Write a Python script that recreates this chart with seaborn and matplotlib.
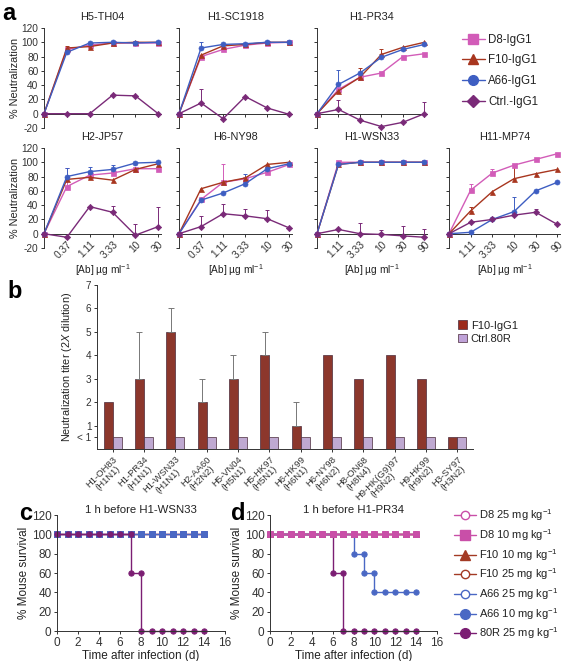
import numpy as np
import pandas as pd
import matplotlib
matplotlib.use("Agg")
import matplotlib.pyplot as plt
import seaborn as sns
from matplotlib.lines import Line2D
from matplotlib.patches import Patch

# ---------------- data ----------------
A_STRAINS = ["H5-TH04", "H1-SC1918", "H1-PR34", "H2-JP57", "H6-NY98", "H1-WSN33", "H11-MP74"]
A_CONC_LOW = ["0.37", "1.11", "3.33", "10", "30"]
A_CONC_HIGH = ["1.11", "3.33", "10", "30", "90"]
A_MABS = ["D8-IgG1", "F10-IgG1", "A66-IgG1", "Ctrl.-IgG1"]

D8_NEUT = [[0, 90, 96, 99, 99, 99],
           [0, 80, 90, 96, 99, 100],
           [0, 34, 51, 57, 80, 84],
           [0, 66, 82, 85, 91, 91],
           [0, 48, 72, 77, 86, 97],
           [0, 100, 100, 100, 100, 100],
           [0, 61, 85, 96, 104, 112]]
F10_NEUT = [[0, 92, 94, 99, 100, 100],
            [0, 82, 95, 97, 100, 100],
            [0, 32, 51, 83, 93, 100],
            [0, 76, 79, 75, 90, 98],
            [0, 63, 72, 78, 97, 100],
            [0, 97, 100, 100, 100, 100],
            [0, 32, 59, 77, 84, 90]]
A66_NEUT = [[0, 86, 99, 100, 99, 100],
            [0, 92, 97, 98, 100, 100],
            [0, 41, 57, 79, 90, 97],
            [0, 80, 87, 90, 99, 100],
            [0, 47, 57, 70, 91, 98],
            [0, 97, 100, 100, 100, 100],
            [0, 2, 20, 31, 60, 72]]
CTRL_NEUT = [[0, 0, 0, 26, 25, 0],
             [0, 15, -7, 24, 8, -1],
             [0, 6, -9, -18, -12, 0],
             [0, -5, 38, 30, -2, 10],
             [0, 10, 28, 25, 21, 8],
             [0, 6, 0, -1, -3, -5],
             [0, 16, 20, 26, 30, 13]]
# upper error bars
D8_ERR = [[0, 0, 0, 0, 0, 0],
          [0, 0, 0, 0, 0, 0],
          [0, 0, 0, 0, 0, 0],
          [0, 26, 0, 0, 0, 0],
          [0, 0, 25, 0, 0, 0],
          [0, 0, 0, 0, 0, 0],
          [0, 8, 5, 0, 0, 0]]
F10_ERR = [[0, 3, 0, 0, 0, 0],
           [0, 0, 0, 0, 0, 0],
           [0, 0, 13, 7, 0, 0],
           [0, 0, 0, 0, 0, 0],
           [0, 0, 0, 0, 0, 0],
           [0, 0, 0, 0, 0, 0],
           [0, 6, 0, 19, 0, 0]]
A66_ERR = [[0, 0, 0, 0, 0, 0],
           [0, 9, 0, 0, 0, 0],
           [0, 20, 0, 0, 0, 0],
           [0, 12, 7, 6, 0, 0],
           [0, 0, 0, 13, 0, 0],
           [0, 0, 0, 0, 0, 0],
           [0, 0, 0, 20, 0, 0]]
CTRL_ERR = [[0, 0, 0, 0, 0, 0],
            [0, 19, 0, 0, 0, 0],
            [0, 13, 0, 0, 0, 17],
            [0, 0, 0, 9, 15, 27],
            [0, 15, 14, 10, 12, 0],
            [0, 0, 15, 6, 14, 12],
            [0, 0, 0, 0, 5, 0]]

B_STRAINS = ["H1-OH83\n(H1N1)", "H1-PR34\n(H1N1)", "H1-WSN33\n(H1N1)", "H2-AA60\n(H2N2)",
             "H5-VN04\n(H5N1)", "H5-HK97\n(H5N1)", "H6-HK99\n(H6N1)", "H6-NY98\n(H6N2)",
             "H8-ON68\n(H8N4)", "H9-HK(G9)97\n(H9N2)", "H9-HK99\n(H9N2)", "H3-SY97\n(H3N2)"]
F10_TITER = [2, 3, 5, 2, 3, 4, 1, 4, 3, 4, 3, 0.5]
F10_TITER_ERR = [0, 2, 1, 1, 1, 1, 1, 0, 0, 0, 0, 0]
CTRL_TITER = [0.5, 0.5, 0.5, 0.5, 0.5, 0.5, 0.5, 0.5, 0.5, 0.5, 0.5, 0.5]
B_YTICKS = [0.5, 1, 2, 3, 4, 5, 6, 7]
B_YLABELS = ["< 1", "1", "2", "3", "4", "5", "6", "7"]

DAYS = [0, 1, 2, 3, 4, 5, 6, 7, 8, 9, 10, 11, 12, 13, 14]
SURV_FULL = [100, 100, 100, 100, 100, 100, 100, 100, 100, 100, 100, 100, 100, 100, 100]
C_DAYS_80R = [0, 1, 2, 3, 4, 5, 6, 7, 7, 8, 8, 9, 10, 11, 12, 13, 14]
C_SURV_80R = [100, 100, 100, 100, 100, 100, 100, 100, 60, 60, 0, 0, 0, 0, 0, 0, 0]
D_DAYS_80R = [0, 1, 2, 3, 4, 5, 6, 6, 7, 7, 8, 9, 10, 11, 12, 13, 14]
D_SURV_80R = [100, 100, 100, 100, 100, 100, 100, 60, 60, 0, 0, 0, 0, 0, 0, 0, 0]
D_DAYS_A66_10 = [0, 1, 2, 3, 4, 5, 6, 7, 8, 8, 9, 9, 10, 10, 11, 12, 13, 14]
D_SURV_A66_10 = [100, 100, 100, 100, 100, 100, 100, 100, 100, 80, 80, 60, 60, 40, 40, 40, 40, 40]

# ---------------- style ----------------
sns.set_theme(style="ticks")
plt.rcParams["font.family"] = ["Liberation Sans", "DejaVu Sans"]
plt.rcParams["mathtext.fontset"] = "custom"
plt.rcParams["mathtext.rm"] = "Liberation Sans"
plt.rcParams["mathtext.it"] = "Liberation Sans:italic"
plt.rcParams["axes.linewidth"] = 0.7
plt.rcParams["xtick.major.width"] = 0.7
plt.rcParams["ytick.major.width"] = 0.7
plt.rcParams["xtick.major.size"] = 2.5
plt.rcParams["ytick.major.size"] = 2.5
plt.rcParams["xtick.major.pad"] = 1.5
plt.rcParams["ytick.major.pad"] = 1.5
TXT = "#222222"
plt.rcParams["text.color"] = TXT
plt.rcParams["axes.edgecolor"] = "#333333"
plt.rcParams["xtick.color"] = "#333333"
plt.rcParams["ytick.color"] = "#333333"
plt.rcParams["axes.labelcolor"] = TXT

C_D8 = "#D25CB8"
C_F10 = "#A8361F"
C_A66 = "#3E5EC2"
C_CTRL = "#7A2A78"

W, H = 566, 661
fig = plt.figure(figsize=(W / 100, H / 100), dpi=100)


def px_axes(left, top, width, height):
    return fig.add_axes([left / W, 1 - (top + height) / H, width / W, height / H])


# ---------------- panel a ----------------
a_cols = [(44, 117), (179, 113), (317, 110), (449, 111)]
a_layout = [(0, 0), (0, 1), (0, 2), (1, 0), (1, 1), (1, 2), (1, 3)]
series = [(D8_NEUT, D8_ERR, C_D8, "s"), (F10_NEUT, F10_ERR, C_F10, "^"),
          (A66_NEUT, A66_ERR, C_A66, "o"), (CTRL_NEUT, CTRL_ERR, C_CTRL, "D")]

for i, strain in enumerate(A_STRAINS):
    row, col = a_layout[i]
    left, width = a_cols[col]
    top = 28 if row == 0 else 148
    ax = px_axes(left, top, width, 100)
    xpos = np.arange(6)
    for vals, errs, c, m in series:
        v = np.array(vals[i], dtype=float)
        e = np.array(errs[i], dtype=float)
        mask = e > 0
        if mask.any():
            ax.errorbar(xpos[mask], v[mask], yerr=[np.zeros(mask.sum()), e[mask]],
                        fmt="none", ecolor=c, elinewidth=0.7, capsize=1.3, capthick=0.7,
                        zorder=2)
        sns.lineplot(x=xpos, y=v, ax=ax, color=c, marker=m, markersize=3.6 if m != "D" else 3.2,
                     markeredgecolor=c, markeredgewidth=0.5, linewidth=1.0, estimator=None,
                     legend=False, clip_on=False, zorder=3)
    ax.set_xlim(0, 5.12)
    ax.set_ylim(-20, 120)
    ax.set_yticks(range(-20, 121, 20))
    ax.set_xticks(range(1, 6))
    ax.spines["top"].set_visible(False)
    ax.spines["right"].set_visible(False)
    ax.spines["bottom"].set_position(("data", 0))
    ax.set_title(strain, fontsize=7.8, pad=6, color=TXT)
    ax.set_ylabel("")
    ax.set_xlabel("")
    if col == 0:
        ax.set_yticklabels([str(t) for t in range(-20, 121, 20)], fontsize=7.3)
        ax.set_ylabel("% Neutralization", fontsize=7.8, labelpad=1)
    else:
        ax.set_yticklabels([])
    if row == 1:
        labels = A_CONC_HIGH if strain in ("H1-WSN33", "H11-MP74") else A_CONC_LOW
        ax.set_xticklabels(labels, rotation=45, ha="right", va="top",
                           rotation_mode="anchor", fontsize=7.3)
        ax.set_xlabel(r"[Ab] µg ml$^{-1}$", fontsize=7.3, labelpad=1)
        ax.xaxis.set_label_coords(0.5, -0.14)
    else:
        ax.set_xticklabels([])

leg_a = [Line2D([], [], color=C_D8, marker="s", ms=6.5, lw=1),
         Line2D([], [], color=C_F10, marker="^", ms=7, lw=1),
         Line2D([], [], color=C_A66, marker="o", ms=7, lw=1),
         Line2D([], [], color=C_CTRL, marker="D", ms=6, lw=1)]
fig.legend(leg_a, A_MABS, loc="upper left", bbox_to_anchor=(457 / W, 1 - 29 / H),
           frameon=False, fontsize=8.3, handlelength=2.0, handletextpad=0.3,
           labelspacing=0.75, borderaxespad=0)

# ---------------- panel b ----------------
axb = px_axes(97, 285, 376, 164)
df_b = pd.DataFrame({
    "strain": B_STRAINS * 2,
    "titer": F10_TITER + CTRL_TITER,
    "antibody": ["F10-IgG1"] * len(B_STRAINS) + ["Ctrl.80R"] * len(B_STRAINS),
})
sns.barplot(data=df_b, x="strain", y="titer", hue="antibody",
            palette=["#9C2A1C", "#BFA2D8"], width=0.58, errorbar=None,
            edgecolor="#4a2a3a", linewidth=0.5, ax=axb, legend=False)
bars = axb.containers[0]
bx = np.array([b.get_x() + b.get_width() / 2 for b in bars])
be = np.array(F10_TITER_ERR, dtype=float)
bm = be > 0
axb.errorbar(bx[bm], np.array(F10_TITER)[bm], yerr=[np.zeros(bm.sum()), be[bm]],
             fmt="none", ecolor="#777777", elinewidth=0.7, capsize=2.0, capthick=0.7, zorder=1)
axb.set_xlim(-0.5, 11.5)
axb.set_ylim(0, 7)
axb.set_yticks(B_YTICKS)
axb.set_yticklabels(B_YLABELS, fontsize=7.2)
axb.set_xticks(range(len(B_STRAINS)))
axb.set_xticklabels(B_STRAINS, rotation=45, ha="right", va="top", rotation_mode="anchor",
                    fontsize=6.8, multialignment="center", linespacing=0.95)
axb.set_xlabel("")
axb.set_ylabel(r"Neutralization titer (2$\it{X}$ dilution)", fontsize=7.8, labelpad=2)
axb.spines["top"].set_visible(False)
axb.spines["right"].set_visible(False)
fig.legend([Patch(facecolor="#9C2A1C", edgecolor="#4a2a3a", lw=0.5),
            Patch(facecolor="#BFA2D8", edgecolor="#4a2a3a", lw=0.5)],
           ["F10-IgG1", "Ctrl.80R"], loc="upper left", bbox_to_anchor=(454 / W, 1 - 316 / H),
           frameon=False, fontsize=8, handlelength=0.8, handleheight=0.8,
           handletextpad=0.3, labelspacing=0.3, borderaxespad=0)

# ---------------- panels c, d ----------------
C_SD8 = "#C94FA8"
C_SF10 = "#A33A24"
C_SA66 = "#4A68C4"
C_S80R = "#7B1E73"


def surv_line(ax, x, y, c, m, filled=True, ms=3.8):
    sns.lineplot(x=x, y=y, ax=ax, color=c, marker=m, markersize=ms,
                 markerfacecolor=c if filled else "white", markeredgecolor=c,
                 markeredgewidth=0.7, linewidth=1.0, estimator=None, sort=False,
                 legend=False, clip_on=False)


axc = px_axes(57, 515, 168, 116)
surv_line(axc, DAYS, SURV_FULL, C_SD8, "s")
surv_line(axc, DAYS, SURV_FULL, C_SF10, "^")
surv_line(axc, DAYS, SURV_FULL, C_SA66, "s")
surv_line(axc, C_DAYS_80R, C_SURV_80R, C_S80R, "o")
axc.set_title("1 h before H1-WSN33", fontsize=8.2, pad=1, color=TXT)

axd = px_axes(270, 515, 167, 116)
surv_line(axd, DAYS, SURV_FULL, C_SA66, "o", filled=False)
surv_line(axd, DAYS, SURV_FULL, C_SF10, "o", filled=False)
surv_line(axd, DAYS, SURV_FULL, C_SF10, "^")
surv_line(axd, DAYS, SURV_FULL, C_SD8, "o", filled=False)
surv_line(axd, D_DAYS_80R, D_SURV_80R, C_S80R, "o")
surv_line(axd, D_DAYS_A66_10, D_SURV_A66_10, C_SA66, "o")
surv_line(axd, DAYS, SURV_FULL, C_SD8, "s")
axd.set_title("1 h before H1-PR34", fontsize=8.2, pad=1, color=TXT)

for ax in (axc, axd):
    ax.set_xlim(0, 16)
    ax.set_ylim(0, 120)
    ax.set_xticks(range(0, 17, 2))
    ax.set_yticks(range(0, 121, 20))
    ax.tick_params(labelsize=8.5)
    ax.set_xlabel("Time after infection (d)", fontsize=8.5, labelpad=1)
    ax.set_ylabel("% Mouse survival", fontsize=8.5, labelpad=1)
    ax.spines["top"].set_visible(False)
    ax.spines["right"].set_visible(False)

leg_d_labels = [r"D8 25 mg kg$^{-1}$", r"D8 10 mg kg$^{-1}$", r"F10 10 mg kg$^{-1}$",
                r"F10 25 mg kg$^{-1}$", r"A66 25 mg kg$^{-1}$", r"A66 10 mg kg$^{-1}$",
                r"80R 25 mg kg$^{-1}$"]
leg_d = [Line2D([], [], color=C_SD8, marker="o", mfc="white", ms=6, lw=1),
         Line2D([], [], color=C_SD8, marker="s", ms=6.5, lw=1),
         Line2D([], [], color=C_SF10, marker="^", ms=7, lw=1),
         Line2D([], [], color=C_SF10, marker="o", mfc="white", ms=6, lw=1),
         Line2D([], [], color=C_SA66, marker="o", mfc="white", ms=6, lw=1),
         Line2D([], [], color=C_SA66, marker="o", ms=7, lw=1),
         Line2D([], [], color=C_S80R, marker="o", ms=7, lw=1)]
fig.legend(leg_d, leg_d_labels, loc="upper left", bbox_to_anchor=(450 / W, 1 - 503 / H),
           frameon=False, fontsize=8, handlelength=1.9, handletextpad=0.3,
           labelspacing=0.35, borderaxespad=0)

# ---------------- panel letters ----------------
for lab, x, y in [("a", 2, 14), ("b", 7, 291), ("c", 19, 514), ("d", 231, 514)]:
    fig.text(x / W, 1 - y / H, lab, fontsize=17, fontweight="bold", va="center", ha="left",
             color="black")

fig.savefig("out.png", dpi=100)
